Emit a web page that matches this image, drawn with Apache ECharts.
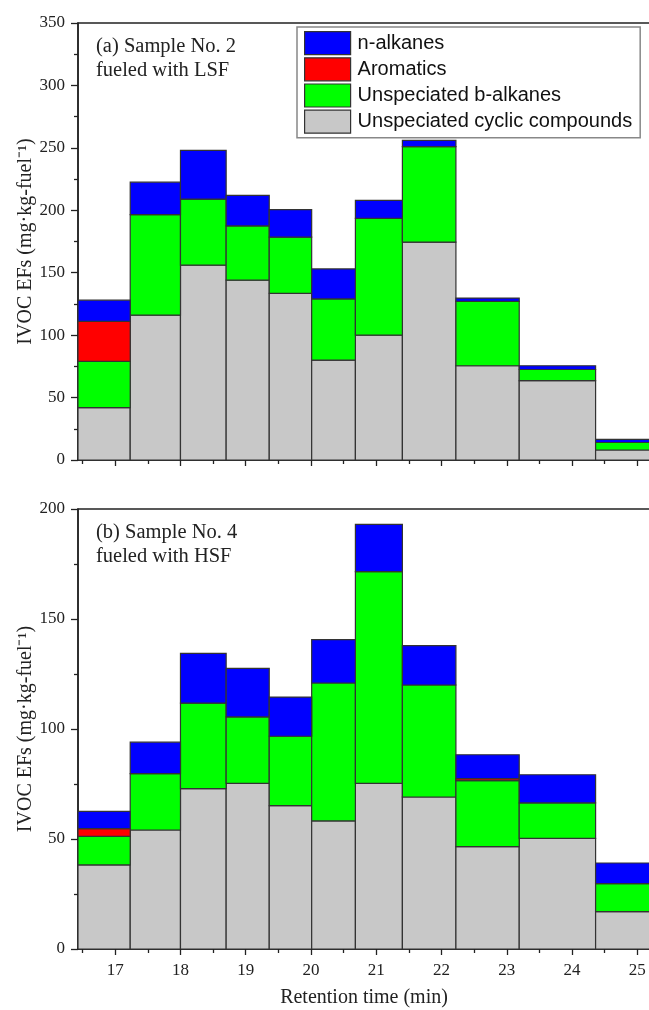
<!DOCTYPE html>
<html>
<head>
<meta charset="utf-8">
<script src="https://cdn.jsdelivr.net/npm/echarts@6.0.0/dist/echarts.min.js"></script>
<style>
html,body{margin:0;padding:0;background:#fff;}
#chart{width:649px;height:1010px;}
</style>
</head>
<body>
<div id="chart"></div>
<script>
// Bin edges on the retention-time axis (min)
const binEdges = [16.43, 17.23, 18.0, 18.7, 19.36, 20.01, 20.68, 21.4, 22.22, 23.19, 24.36, 25.5];
const xTickValues = [17, 18, 19, 20, 21, 22, 23, 24, 25];
const xMinorTickValues = [16.5, 17.5, 18.5, 19.5, 20.5, 21.5, 22.5, 23.5, 24.5, 25.5];

const seriesNames = ['n-alkanes', 'Aromatics', 'Unspeciated b-alkanes', 'Unspeciated cyclic compounds'];

// Panel (a) Sample No. 2, LSF — component amounts per bin
const cyclicA = [42, 116, 156, 144, 133.5, 80, 100, 174.5, 75.5, 63.5, 8];
const balkA   = [37, 80.5, 53, 43.5, 45, 49, 93.5, 76.5, 51.5, 9, 6];
const aromA   = [32, 0, 0, 0, 0, 0, 0, 0, 0, 0, 0];
const nalkA   = [17, 26, 39, 24.5, 22, 24, 14.5, 5, 2.7, 3, 2.5];

// Panel (b) Sample No. 4, HSF
const cyclicB = [38.2, 54.1, 72.9, 75.3, 65.2, 58.2, 75.3, 69.1, 46.5, 50.3, 17];
const balkB   = [13, 25.6, 38.9, 30.2, 31.5, 62.7, 96.2, 50.9, 30, 16.1, 12.7];
const aromB   = [3.5, 0, 0, 0, 0, 0, 0, 0, 0.9, 0, 0];
const nalkB   = [7.9, 14.3, 22.6, 22.1, 17.8, 19.7, 21.5, 17.9, 10.9, 12.8, 9.4];

const colors = {
  'n-alkanes': '#0000FF',
  'Aromatics': '#FF0000',
  'Unspeciated b-alkanes': '#00FF00',
  'Unspeciated cyclic compounds': '#C8C8C8'
};

const SERIF = '"Liberation Serif","Times New Roman",serif';
const SANS = '"Liberation Sans",Arial,sans-serif';

function stackedSeries(panelIdx, layers) {
  // layers bottom -> top: [name, values]
  const base = binEdges.slice(0, -1).map(() => 0);
  const out = [];
  layers.forEach(([name, vals]) => {
    const data = vals.map((v, i) => {
      const b = base[i];
      base[i] += v;
      return [binEdges[i], binEdges[i + 1], b, b + v];
    });
    const col = colors[name];
    out.push({
      type: 'custom',
      name: name,
      xAxisIndex: panelIdx * 2,
      yAxisIndex: panelIdx,
      clip: true,
      itemStyle: { color: col, borderColor: '#333', borderWidth: 1 },
      encode: { x: [0, 1], y: [2, 3] },
      data: data,
      renderItem: function (params, api) {
        const x0 = api.value(0), x1 = api.value(1), b = api.value(2), t = api.value(3);
        if (t - b <= 0) return null;
        const p0 = api.coord([x0, t]);
        const p1 = api.coord([x1, b]);
        return {
          type: 'rect',
          shape: { x: p0[0], y: p0[1], width: p1[0] - p0[0], height: p1[1] - p0[1] },
          style: { fill: col, stroke: '#333', lineWidth: 1.2 }
        };
      }
    });
  });
  return out;
}

const axisLine = { show: true, lineStyle: { color: '#222', width: 1.5 } };

function xAxes(gridIndex, showLabels) {
  return [
    {
      type: 'value', gridIndex: gridIndex, position: 'bottom',
      min: 16.43, max: 25.5,
      axisLine: axisLine,
      splitLine: { show: false },
      axisTick: { show: true, length: 6, customValues: xTickValues, lineStyle: { color: '#222', width: 1.3 } },
      axisLabel: { show: showLabels, customValues: xTickValues, margin: 13, fontFamily: SERIF, fontSize: 17, color: '#222' }
    },
    {
      type: 'value', gridIndex: gridIndex, position: 'bottom',
      min: 16.43, max: 25.5,
      axisLine: { show: false },
      splitLine: { show: false },
      axisTick: { show: true, length: 4, customValues: xMinorTickValues, lineStyle: { color: '#222', width: 1.3 } },
      axisLabel: { show: false, customValues: xMinorTickValues }
    }
  ];
}

function yAxis(gridIndex, max) {
  return {
    type: 'value', gridIndex: gridIndex,
    min: 0, max: max, interval: 50,
    name: 'IVOC EFs (mg\u00B7kg-fuel\u207B\u00B9)',
    nameLocation: 'middle', nameGap: 42,
    nameMoveOverlap: false,
    nameTextStyle: { fontFamily: SERIF, fontSize: 20, color: '#222' },
    axisLine: axisLine,
    splitLine: { show: false },
    axisTick: { show: true, length: 7, lineStyle: { color: '#222', width: 1.3 } },
    minorTick: { show: true, splitNumber: 2, length: 4, lineStyle: { color: '#222', width: 1.3 } },
    minorSplitLine: { show: false },
    axisLabel: { margin: 13, fontFamily: SERIF, fontSize: 17, color: '#222' }
  };
}

const chart = echarts.init(document.getElementById('chart'), null, { renderer: 'canvas' });

const option = {
  backgroundColor: '#fff',
  animation: false,
  grid: [
    { left: 78, top: 23, width: 592, height: 437, outerBoundsMode: 'none', containLabel: false, show: true, borderColor: '#222', borderWidth: 1.5, backgroundColor: 'transparent' },
    { left: 78, top: 509, width: 592, height: 440, outerBoundsMode: 'none', containLabel: false, show: true, borderColor: '#222', borderWidth: 1.5, backgroundColor: 'transparent' }
  ],
  xAxis: [...xAxes(0, false), ...xAxes(1, true)],
  yAxis: [yAxis(0, 350), yAxis(1, 200)],
  legend: {
    orient: 'vertical',
    left: 297, top: 27,
    padding: [4, 8, 4, 7],
    itemGap: 2,
    itemWidth: 46, itemHeight: 23,
    borderColor: '#888', borderWidth: 1.5,
    icon: 'rect',
    selectedMode: false,
    data: seriesNames,
    itemStyle: { borderColor: '#333', borderWidth: 1.2 },
    textStyle: { fontFamily: SANS, fontSize: 20, color: '#111', padding: [0, 0, 0, 2] }
  },
  graphic: [
    { type: 'text', left: 96, top: 34, style: { text: '(a) Sample No. 2\nfueled with LSF', font: '20.5px ' + SERIF, fill: '#222', lineHeight: 24.5 } },
    { type: 'text', left: 96, top: 520, style: { text: '(b) Sample No. 4\nfueled with HSF', font: '20.5px ' + SERIF, fill: '#222', lineHeight: 24.5 } },
    { type: 'text', x: 364, y: 998, style: { text: 'Retention time (min)', font: '20px ' + SERIF, fill: '#222', align: 'center', verticalAlign: 'middle' } }
  ],
  series: [
    ...stackedSeries(0, [
      ['Unspeciated cyclic compounds', cyclicA],
      ['Unspeciated b-alkanes', balkA],
      ['Aromatics', aromA],
      ['n-alkanes', nalkA]
    ]),
    ...stackedSeries(1, [
      ['Unspeciated cyclic compounds', cyclicB],
      ['Unspeciated b-alkanes', balkB],
      ['Aromatics', aromB],
      ['n-alkanes', nalkB]
    ])
  ]
};

chart.setOption(option);
</script>
</body>
</html>
